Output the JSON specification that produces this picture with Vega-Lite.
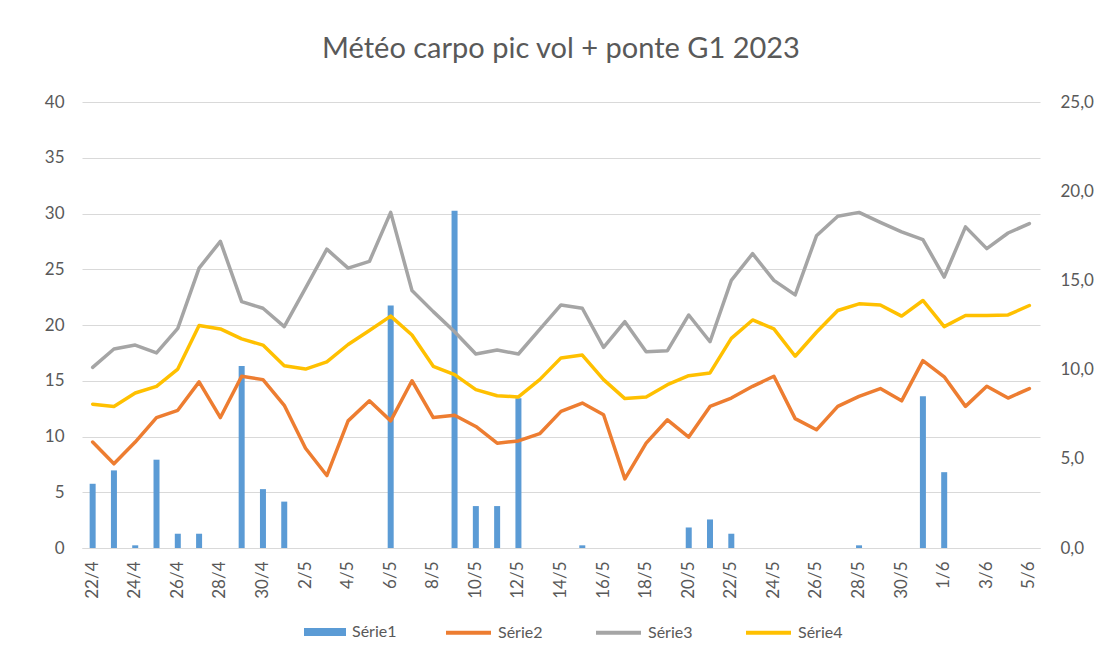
{
  "$schema": "https://vega.github.io/schema/vega-lite/v6.json",
  "autosize": {"type": "none"},
  "padding": {"left": 82, "top": 102, "right": 59, "bottom": 111},
  "width": 958,
  "height": 446,
  "background": "white",
  "title": {
    "text": "Météo carpo pic vol + ponte G1 2023",
    "fontSize": 29,
    "font": "Lato, sans-serif",
    "fontWeight": "normal",
    "color": "#595959",
    "anchor": "middle",
    "offset": 29
  },
  "config": {
    "view": {"stroke": null},
    "font": "Lato, sans-serif",
    "axis": {"labelFont": "Lato, sans-serif", "labelColor": "#595959", "labelFontSize": 17, "ticks": false, "domain": false, "titleColor": "#595959"},
    "legend": {"labelFont": "Lato, sans-serif", "labelColor": "#595959", "labelFontSize": 16}
  },
  "data": {
    "values": [
      {"jour": "22/4", "pluie": 3.6, "Série2": 9.5, "Série3": 16.2, "Série4": 12.9},
      {"jour": "23/4", "pluie": 4.35, "Série2": 7.55, "Série3": 17.85, "Série4": 12.7},
      {"jour": "24/4", "pluie": 0.15, "Série2": 9.5, "Série3": 18.2, "Série4": 13.9},
      {"jour": "25/4", "pluie": 4.95, "Série2": 11.7, "Série3": 17.5, "Série4": 14.5},
      {"jour": "26/4", "pluie": 0.8, "Série2": 12.35, "Série3": 19.7, "Série4": 16.05},
      {"jour": "27/4", "pluie": 0.8, "Série2": 14.9, "Série3": 25.1, "Série4": 19.95},
      {"jour": "28/4", "pluie": 0, "Série2": 11.7, "Série3": 27.5, "Série4": 19.65},
      {"jour": "29/4", "pluie": 10.2, "Série2": 15.4, "Série3": 22.1, "Série4": 18.75},
      {"jour": "30/4", "pluie": 3.3, "Série2": 15.1, "Série3": 21.5, "Série4": 18.2},
      {"jour": "1/5", "pluie": 2.6, "Série2": 12.8, "Série3": 19.85, "Série4": 16.35},
      {"jour": "2/5", "pluie": 0, "Série2": 8.95, "Série3": 23.3, "Série4": 16.05},
      {"jour": "3/5", "pluie": 0, "Série2": 6.5, "Série3": 26.8, "Série4": 16.7},
      {"jour": "4/5", "pluie": 0, "Série2": 11.4, "Série3": 25.1, "Série4": 18.25},
      {"jour": "5/5", "pluie": 0, "Série2": 13.2, "Série3": 25.7, "Série4": 19.5},
      {"jour": "6/5", "pluie": 13.6, "Série2": 11.4, "Série3": 30.1, "Série4": 20.8},
      {"jour": "7/5", "pluie": 0, "Série2": 15.0, "Série3": 23.1, "Série4": 19.1},
      {"jour": "8/5", "pluie": 0, "Série2": 11.7, "Série3": 21.2, "Série4": 16.3},
      {"jour": "9/5", "pluie": 18.9, "Série2": 11.9, "Série3": 19.4, "Série4": 15.55},
      {"jour": "10/5", "pluie": 2.35, "Série2": 10.9, "Série3": 17.4, "Série4": 14.2},
      {"jour": "11/5", "pluie": 2.35, "Série2": 9.4, "Série3": 17.75, "Série4": 13.65},
      {"jour": "12/5", "pluie": 8.4, "Série2": 9.6, "Série3": 17.4, "Série4": 13.55},
      {"jour": "13/5", "pluie": 0, "Série2": 10.25, "Série3": 19.6, "Série4": 15.1},
      {"jour": "14/5", "pluie": 0, "Série2": 12.25, "Série3": 21.8, "Série4": 17.05},
      {"jour": "15/5", "pluie": 0.15, "Série2": 13.0, "Série3": 21.5, "Série4": 17.3},
      {"jour": "16/5", "pluie": 0, "Série2": 11.95, "Série3": 18.0, "Série4": 15.1},
      {"jour": "17/5", "pluie": 0, "Série2": 6.2, "Série3": 20.3, "Série4": 13.4},
      {"jour": "18/5", "pluie": 0, "Série2": 9.4, "Série3": 17.6, "Série4": 13.55},
      {"jour": "19/5", "pluie": 0, "Série2": 11.5, "Série3": 17.7, "Série4": 14.65},
      {"jour": "20/5", "pluie": 1.15, "Série2": 9.95, "Série3": 20.9, "Série4": 15.45},
      {"jour": "21/5", "pluie": 1.6, "Série2": 12.7, "Série3": 18.5, "Série4": 15.7},
      {"jour": "22/5", "pluie": 0.8, "Série2": 13.45, "Série3": 24.0, "Série4": 18.8},
      {"jour": "23/5", "pluie": 0, "Série2": 14.5, "Série3": 26.4, "Série4": 20.45},
      {"jour": "24/5", "pluie": 0, "Série2": 15.4, "Série3": 24.0, "Série4": 19.65},
      {"jour": "25/5", "pluie": 0, "Série2": 11.6, "Série3": 22.7, "Série4": 17.2},
      {"jour": "26/5", "pluie": 0, "Série2": 10.6, "Série3": 28.0, "Série4": 19.35},
      {"jour": "27/5", "pluie": 0, "Série2": 12.7, "Série3": 29.75, "Série4": 21.3},
      {"jour": "28/5", "pluie": 0.15, "Série2": 13.6, "Série3": 30.1, "Série4": 21.9},
      {"jour": "29/5", "pluie": 0, "Série2": 14.3, "Série3": 29.2, "Série4": 21.8},
      {"jour": "30/5", "pluie": 0, "Série2": 13.2, "Série3": 28.35, "Série4": 20.8},
      {"jour": "31/5", "pluie": 8.5, "Série2": 16.8, "Série3": 27.65, "Série4": 22.2},
      {"jour": "1/6", "pluie": 4.25, "Série2": 15.35, "Série3": 24.3, "Série4": 19.85},
      {"jour": "2/6", "pluie": 0, "Série2": 12.7, "Série3": 28.8, "Série4": 20.85},
      {"jour": "3/6", "pluie": 0, "Série2": 14.5, "Série3": 26.85, "Série4": 20.85},
      {"jour": "4/6", "pluie": 0, "Série2": 13.45, "Série3": 28.25, "Série4": 20.9},
      {"jour": "5/6", "pluie": 0, "Série2": 14.3, "Série3": 29.1, "Série4": 21.75}
    ]
  },
  "layer": [
    {
      "mark": {"type": "bar", "size": 6},
      "encoding": {
        "x": {
          "field": "jour", "type": "ordinal", "sort": null,
          "scale": {"paddingInner": 0, "paddingOuter": 0},
          "axis": {
            "title": null, "labelAngle": -90, "labelFontSize": 17, "labelPadding": 13,
            "domain": true, "domainColor": "#d9d9d9",
            "values": ["22/4","24/4","26/4","28/4","30/4","2/5","4/5","6/5","8/5","10/5","12/5","14/5","16/5","18/5","20/5","22/5","24/5","26/5","28/5","30/5","1/6","3/6","5/6"]
          }
        },
        "y": {
          "field": "pluie", "type": "quantitative",
          "scale": {"domain": [0, 25], "nice": false},
          "axis": {
            "orient": "right", "title": null, "grid": false,
            "values": [0, 5, 10, 15, 20, 25], "labelPadding": 20,
            "labelExpr": "replace(format(datum.value, '.1f'), '.', ',')"
          }
        },
        "fill": {
          "datum": "Série1", "type": "nominal",
          "scale": {"domain": ["Série1"], "range": ["#5b9bd5"]},
          "legend": {
            "title": null, "orient": "none", "legendX": 221, "legendY": 508,
            "symbolType": "M-1,-0.19H1V0.19H-1Z", "symbolSize": 1764, "symbolOpacity": 1,
            "labelOffset": 5
          }
        }
      }
    },
    {
      "transform": [{"fold": ["Série2", "Série3", "Série4"], "as": ["serie", "temp"]}],
      "mark": {"type": "line", "strokeWidth": 3.5, "strokeJoin": "round", "strokeCap": "round"},
      "encoding": {
        "x": {"field": "jour", "type": "ordinal", "sort": null},
        "y": {
          "field": "temp", "type": "quantitative",
          "scale": {"domain": [0, 40], "nice": false},
          "axis": {
            "orient": "left", "title": null, "grid": true, "gridColor": "#d9d9d9",
            "values": [0, 5, 10, 15, 20, 25, 30, 35, 40], "labelPadding": 18
          }
        },
        "stroke": {
          "field": "serie", "type": "nominal",
          "scale": {"domain": ["Série2", "Série3", "Série4"], "range": ["#ed7d31", "#a5a5a5", "#ffc000"]},
          "legend": {
            "title": null, "orient": "none", "direction": "horizontal", "legendX": 362, "legendY": 506,
            "symbolType": "stroke", "symbolSize": 2025, "symbolStrokeWidth": 4,
            "labelOffset": 5, "columnPadding": 45
          }
        }
      }
    }
  ],
  "resolve": {"scale": {"y": "independent"}}
}
